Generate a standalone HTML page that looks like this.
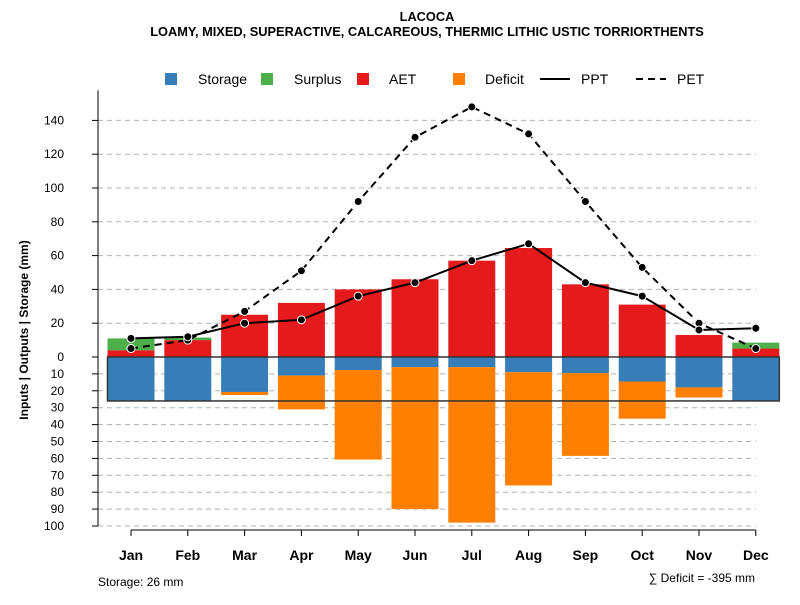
<!DOCTYPE html>
<html><head><meta charset="utf-8"><style>
body{margin:0;background:#fff}
svg{font-family:"Liberation Sans",sans-serif}
</style></head><body>
<svg id="c" width="800" height="600" viewBox="0 0 800 600">
<text x="427" y="21" text-anchor="middle" font-size="12.8" font-weight="bold">LACOCA</text>
<text x="427" y="36" text-anchor="middle" font-size="12.8" font-weight="bold">LOAMY, MIXED, SUPERACTIVE, CALCAREOUS, THERMIC LITHIC USTIC TORRIORTHENTS</text>
<g id="grid"></g><g id="bars"></g><g id="lines"></g><g id="axes"></g>
<g font-size="14">
<rect x="165" y="73" width="12" height="12" fill="#377eb8"/>
<text x="198" y="84">Storage</text>
<rect x="261" y="73" width="12" height="12" fill="#4daf4a"/>
<text x="294" y="84">Surplus</text>
<rect x="357" y="73" width="12" height="12" fill="#e41a1c"/>
<text x="389" y="84">AET</text>
<rect x="453" y="73" width="12" height="12" fill="#ff7f00"/>
<text x="485" y="84">Deficit</text>
<line x1="540" y1="79" x2="570" y2="79" stroke="#000" stroke-width="2"/>
<text x="581" y="84">PPT</text>
<line x1="636" y1="79" x2="666" y2="79" stroke="#000" stroke-width="2" stroke-dasharray="7,5"/>
<text x="677" y="84">PET</text>
</g>
<text transform="translate(28,330) rotate(-90)" text-anchor="middle" font-size="12" font-weight="bold">Inputs | Outputs | Storage    (mm)</text>
<text x="98" y="586" font-size="12">Storage: 26 mm</text>
<text x="755" y="582" text-anchor="end" font-size="12">∑ Deficit = -395 mm</text>
</svg>
<script>
const months=["Jan","Feb","Mar","Apr","May","Jun","Jul","Aug","Sep","Oct","Nov","Dec"];
const aet=[4,10,25,32,40,46,57,64.5,43,31,13,5];
const surplus=[7,1.5,0,0,0,0,0,0,0,0,0,3.5];
const storage=[26,26,20.7,11,7.7,6,6,9,9.5,14.5,18,26];
const deficit=[0,0,1.8,20,53,84,92,67,49,22,6,0];
const ppt=[11,12,20,22,36,44,57,67,44,36,16,17];
const pet=[5,10,27,51,92,130,148,132,92,53,20,5];
const posTicks=[0,20,40,60,80,100,120,140];
const negTicks=[10,20,30,40,50,60,70,80,90,100];
const capacity=26;
const NS="http://www.w3.org/2000/svg";
const y0=357,k=1.69;
const Y=v=>y0-v*k;
const X=i=>131+i*56.8;
const bw=47;
function mk(t,a,p){const e=document.createElementNS(NS,t);for(const q in a)e.setAttribute(q,a[q]);p.appendChild(e);return e;}
const grid=document.getElementById('grid'),bars=document.getElementById('bars'),lines=document.getElementById('lines'),axes=document.getElementById('axes');
const allT=posTicks.map(v=>v).concat(negTicks.map(v=>-v));
allT.forEach(v=>{
 if(v!==0){const g=mk('line',{x1:98,x2:756,y1:Y(v),y2:Y(v),stroke:'#b0b0b0','stroke-dasharray':'5,4'},grid);
 
 }
 const t=mk('line',{x1:92,x2:98,y1:Y(v),y2:Y(v),stroke:'#000'},axes);
 
 
 const l=mk('text',{x:64,y:Y(v)+4,'text-anchor':'end','font-size':12},axes);
 l.textContent=Math.abs(v);
 
 
});
const ya=mk('line',{x1:98,x2:98,y1:Y(140)-30,y2:Y(-100),stroke:'#000'},axes);


const xa=mk('line',{x1:X(0),x2:X(11),y1:530,y2:530,stroke:'#000'},axes);


months.forEach((m,i)=>{
 const cx=X(i),x=cx-bw/2;
 const r1=mk('rect',{x:x,y:Y(aet[i]),width:bw,height:aet[i]*k,fill:'#e41a1c'},bars);
 
 
 if(surplus[i]>0){const r=mk('rect',{x:x,y:Y(aet[i]+surplus[i]),width:bw,height:surplus[i]*k,fill:'#4daf4a'},bars);
 
 }
 const r2=mk('rect',{x:x,y:y0,width:bw,height:storage[i]*k,fill:'#377eb8'},bars);
 
 
 if(deficit[i]>0){const r=mk('rect',{x:x,y:Y(-storage[i]),width:bw,height:deficit[i]*k,fill:'#ff7f00'},bars);
 
 }
 const t=mk('line',{x1:cx,x2:cx,y1:530,y2:536,stroke:'#000'},axes);
 
 
 const l=mk('text',{x:cx,y:560,'text-anchor':'middle','font-size':14,'font-weight':'bold'},axes);
 l.textContent=m;
 
 
});
const box=mk('rect',{x:X(0)-bw/2,y:y0,width:X(11)-X(0)+bw,height:capacity*k,fill:'none',stroke:'#333','stroke-width':1.5},bars);


function series(vals,name,dash){
 const p=mk('polyline',{points:vals.map((v,i)=>X(i)+','+Y(v)).join(' '),fill:'none',stroke:'#000','stroke-width':2,'stroke-dasharray':dash},lines);
 
 
 vals.forEach((v,i)=>{const c=mk('circle',{cx:X(i),cy:Y(v),r:4,fill:'#000',stroke:'#fff','stroke-width':1},lines);
 
 });
}
series(pet,'pet','7,5');
series(ppt,'ppt','none');
</script>
</body></html>
